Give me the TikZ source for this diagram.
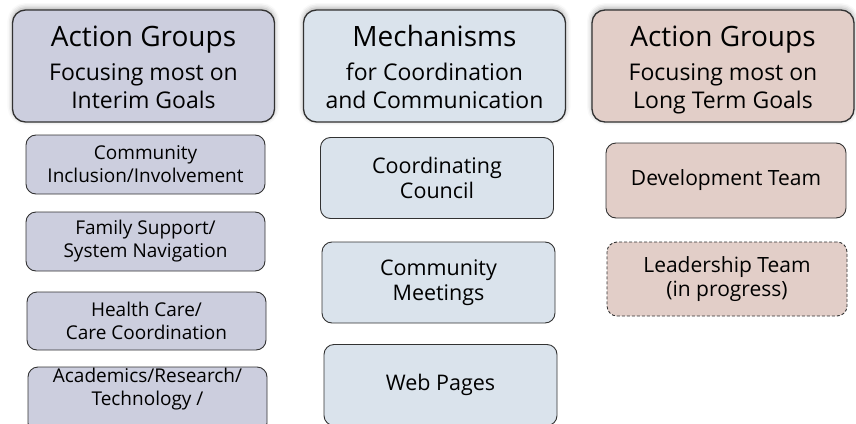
\documentclass[tikz,border=0pt]{standalone}
\usepackage{fontspec}
\setmainfont{Open Sans}
\usetikzlibrary{shadows.blur}
\definecolor{lavfill}{RGB}{204,206,222}
\definecolor{bluefill}{RGB}{218,227,236}
\definecolor{rosefill}{RGB}{226,206,200}
\definecolor{edge}{RGB}{50,50,50}
\tikzset{
  header/.style={draw=edge, line width=1.3pt, rounded corners=13pt,
    minimum width=262pt, minimum height=112pt, inner sep=0pt,
    blur shadow={shadow xshift=0pt, shadow yshift=2pt, shadow blur radius=5pt, shadow opacity=35}},
  htext/.style={align=center, inner sep=0pt, text=black, font=\fontsize{23}{28}\selectfont},
  itembox/.style={draw=edge, line width=0.9pt, rounded corners=10pt, align=center,
    inner sep=0pt, text=black},
}
\newcommand{\bigline}[1]{{\fontsize{28}{28}\selectfont #1}}
\begin{document}
\begin{tikzpicture}[x=1pt,y=-1pt]
\useasboundingbox (0,0) rectangle (856,423);
\clip (0,0) rectangle (856,423);
% headers
\node[header, fill=lavfill] (h1) at (143.5,66) {};
\node[htext] (h1t) at ([yshift=-4pt]h1.center)
  {\bigline{Action Groups}\\[6pt]Focusing most on\\Interim Goals\vphantom{g}};
\node[header, fill=bluefill] (h2) at (434.5,66) {};
\node[htext] (h2t) at ([yshift=-4pt]h2.center)
  {\bigline{Mechanisms}\\[6pt]for Coordination\\and Communication\vphantom{g}};
\node[header, fill=rosefill] (h3) at (723,66) {};
\node[htext] (h3t) at ([yshift=-4pt]h3.center)
  {\bigline{Action Groups}\\[6pt]Focusing most on\\Long Term Goals\vphantom{g}};
% left column
\tikzset{lf/.style={itembox, fill=lavfill, minimum width=239pt, minimum height=59pt,
  font=\fontsize{19}{23}\selectfont}}
\node[lf] (l1) at (145.5,164.5) {Community\\Inclusion/Involvement};
\node[lf] (l2) at (145.5,241.5) {Family Support/\\System Navigation};
\node[lf, minimum height=58pt] (l3) at (146.5,321) {Health Care/\\Care Coordination};
\node[lf, minimum height=66pt] (l4) at (147.5,400) {Academics/Research/\\Technology /\\[4pt]};
% middle column
\tikzset{mf/.style={itembox, fill=bluefill, minimum width=233pt, minimum height=81pt,
  font=\fontsize{21.5}{25}\selectfont}}
\node[mf] (m1) at (437,178) {Coordinating\\Council};
\node[mf] (m2) at (438.5,282.5) {Community\\Meetings};
\node[mf] (m3) at (440.5,385) {Web Pages};
% right column
\tikzset{rf/.style={itembox, fill=rosefill, minimum width=240pt, minimum height=75pt,
  font=\fontsize{21}{24}\selectfont}}
\node[rf] (r1) at (726,180.5) {Development Team};
\node[rf, dashed, dash pattern=on 3pt off 2pt, minimum height=74pt] (r2) at (727,279) {Leadership Team\\(in progress)};
\end{tikzpicture}
\end{document}
